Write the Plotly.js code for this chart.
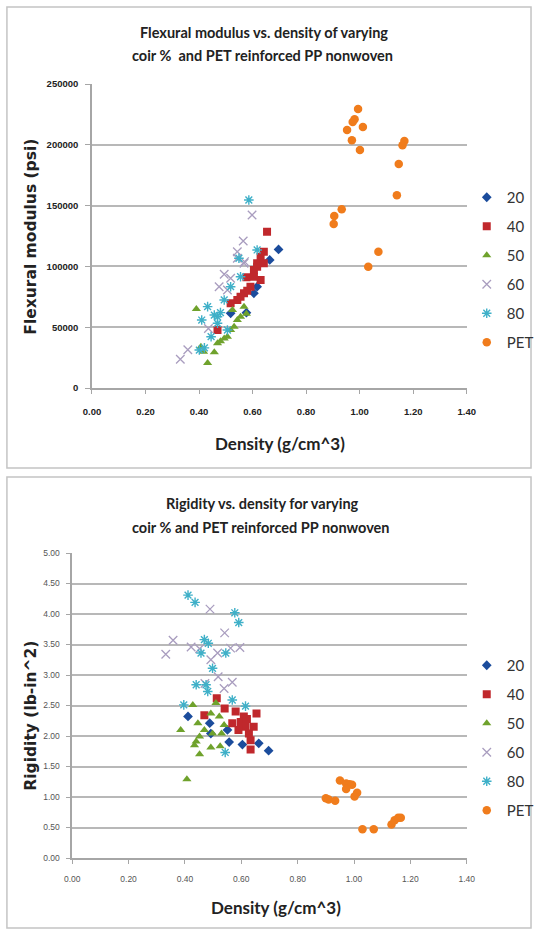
<!DOCTYPE html>
<html>
<head>
<meta charset="utf-8">
<script src="https://cdn.plot.ly/plotly-3.0.1.min.js"></script>
<style>
html,body{margin:0;padding:0;background:#fff;}
#chart{width:539px;height:932px;}
</style>
</head>
<body>
<div id="chart"></div>
<script>
// ---------- Chart 1: Flexural modulus vs density ----------
var seriesNames = ["20", "40", "50", "60", "80", "PET"];

var fm20x = [0.697, 0.664, 0.617, 0.605, 0.577, 0.518];
var fm20y = [114000, 105300, 83300, 77900, 61900, 61400];

var fm40x = [0.654, 0.642, 0.617, 0.605, 0.630, 0.642, 0.617, 0.605, 0.592, 0.568, 0.543, 0.518, 0.469, 0.630, 0.580, 0.555, 0.577];
var fm40y = [128500, 112100, 102600, 97000, 88800, 102600, 99800, 91500, 83300, 77900, 72400, 69700, 47700, 108000, 80000, 75000, 91000];

var fm50x = [0.390, 0.407, 0.432, 0.417, 0.457, 0.469, 0.494, 0.506, 0.518, 0.531, 0.543, 0.555, 0.577, 0.568, 0.525, 0.480];
var fm50y = [65000, 34000, 20500, 29900, 29500, 36700, 40800, 42200, 47700, 50400, 55900, 58600, 61000, 66900, 64100, 38500];

var fm60x = [0.330, 0.358, 0.435, 0.475, 0.494, 0.518, 0.506, 0.543, 0.568, 0.543, 0.565, 0.598, 0.570];
var fm60y = [23600, 31500, 49000, 83300, 93500, 90200, 80600, 106700, 102600, 112100, 120900, 142300, 103900];

var fm80x = [0.586, 0.617, 0.549, 0.555, 0.518, 0.494, 0.432, 0.457, 0.469, 0.410, 0.401, 0.445, 0.506, 0.469, 0.420, 0.480];
var fm80y = [154600, 113500, 106700, 91500, 83300, 72400, 66900, 60000, 53200, 55900, 31200, 42200, 47700, 58600, 33000, 62000];

var fmPETx = [0.994, 0.981, 0.974, 0.953, 1.012, 0.971, 1.001, 1.167, 1.160, 1.146, 1.139, 0.933, 0.905, 0.903, 1.070, 1.032];
var fmPETy = [229400, 221000, 218700, 212200, 214600, 203700, 195700, 203100, 199600, 184200, 158500, 147000, 141400, 134900, 112100, 99800];

// ---------- Chart 2: Rigidity vs density ----------
var rg20x = [0.411, 0.488, 0.492, 0.551, 0.557, 0.604, 0.662, 0.697];
var rg20y = [2.32, 2.21, 2.04, 2.10, 1.90, 1.86, 1.88, 1.76];

var rg40x = [0.513, 0.469, 0.541, 0.580, 0.609, 0.654, 0.568, 0.598, 0.615, 0.644, 0.627, 0.633, 0.633, 0.620, 0.590];
var rg40y = [2.62, 2.34, 2.45, 2.40, 2.32, 2.37, 2.21, 2.23, 2.15, 2.15, 2.04, 1.93, 1.78, 2.28, 2.10];

var rg50x = [0.428, 0.385, 0.446, 0.469, 0.498, 0.522, 0.492, 0.452, 0.530, 0.510, 0.539, 0.440, 0.434, 0.452, 0.492, 0.525, 0.407];
var rg50y = [2.51, 2.10, 2.21, 2.10, 2.04, 2.32, 2.37, 1.99, 2.04, 2.54, 2.18, 1.91, 1.85, 1.70, 1.81, 1.83, 1.29];

var rg60x = [0.489, 0.358, 0.332, 0.422, 0.452, 0.541, 0.562, 0.595, 0.516, 0.492, 0.518, 0.568, 0.471, 0.539];
var rg60y = [4.08, 3.57, 3.34, 3.46, 3.43, 3.69, 3.44, 3.45, 3.36, 3.25, 2.97, 2.88, 2.86, 2.78];

var rg80x = [0.411, 0.436, 0.577, 0.591, 0.469, 0.457, 0.483, 0.545, 0.498, 0.440, 0.481, 0.396, 0.568, 0.615, 0.475, 0.543];
var rg80y = [4.31, 4.19, 4.02, 3.86, 3.58, 3.36, 3.52, 3.36, 3.11, 2.84, 2.73, 2.51, 2.59, 2.49, 2.84, 1.73];

var rgPETx = [0.950, 0.972, 0.984, 0.993, 0.972, 1.011, 1.002, 0.900, 0.910, 0.933, 1.030, 1.070, 1.133, 1.144, 1.157, 1.166];
var rgPETy = [1.27, 1.22, 1.21, 1.20, 1.13, 1.07, 1.01, 0.98, 0.96, 0.94, 0.47, 0.47, 0.55, 0.62, 0.66, 0.66];

// ---------- Styles ----------
var W = 539, H = 932;
function px(v){ return v / W; }
function py(v){ return 1 - v / H; }

var styles = [
  {symbol: "diamond", color: "#1b4c9c", size: 7.5},
  {symbol: "square", color: "#c0282c", size: 8},
  {symbol: "triangle-up", color: "#6fa22c", size: 8},
  {symbol: "x-thin-open", color: "#a99dbf", size: 8.5, lw: 1.3},
  {symbol: "asterisk-open", color: "#3fb0c8", size: 8, lw: 1.4},
  {symbol: "circle", color: "#f07c1c", size: 8.5}
];

function mk(i, xs, ys, xa, ya, leg){
  var s = styles[i];
  var marker = {symbol: s.symbol, color: s.color, size: s.size};
  if (s.lw) { marker.line = {color: s.color, width: s.lw}; }
  else { marker.line = {width: 0}; }
  return {
    type: "scatter", mode: "markers", name: seriesNames[i],
    x: xs, y: ys, xaxis: xa, yaxis: ya, marker: marker,
    legend: leg, legendgroup: leg + "_" + i, hoverinfo: "skip"
  };
}

var c1 = [[fm20x,fm20y],[fm40x,fm40y],[fm50x,fm50y],[fm60x,fm60y],[fm80x,fm80y],[fmPETx,fmPETy]];
var c2 = [[rg20x,rg20y],[rg40x,rg40y],[rg50x,rg50y],[rg60x,rg60y],[rg80x,rg80y],[rgPETx,rgPETy]];
var data = [];
for (var i = 0; i < 6; i++) data.push(mk(i, c1[i][0], c1[i][1], "x", "y", "legend"));
for (var j = 0; j < 6; j++) data.push(mk(j, c2[j][0], c2[j][1], "x2", "y2", "legend2"));

var gridC = "#b8b8b8";
var axisC = "#a6a6a6";

var layout = {
  width: W, height: H,
  margin: {l: 0, r: 0, t: 0, b: 0},
  paper_bgcolor: "#ffffff", plot_bgcolor: "#ffffff",
  showlegend: true,
  xaxis: {
    domain: [px(93), px(472)], anchor: "y", range: [0, 1.4], dtick: 0.2, tick0: 0,
    tickformat: ".2f", showgrid: false, zeroline: false,
    showline: true, linecolor: axisC, linewidth: 1.5,
    ticks: "outside", ticklen: 4, tickcolor: axisC, tickwidth: 1.2,
    ticklabelstandoff: 10,
    tickfont: {family: "Liberation Sans, Arial", size: 9.5, color: "#222", weight: "bold"},
    fixedrange: true
  },
  yaxis: {
    domain: [py(388), py(84)], anchor: "x", range: [0, 250000], dtick: 50000, tick0: 0,
    tickformat: "d", showgrid: true, gridcolor: gridC, gridwidth: 1.8, zeroline: false,
    showline: true, linecolor: axisC, linewidth: 1.5,
    ticks: "outside", ticklen: 5, tickcolor: axisC, tickwidth: 1.2,
    ticklabelstandoff: 5,
    tickfont: {family: "Liberation Sans, Arial", size: 9.5, color: "#222", weight: "bold"},
    fixedrange: true
  },
  xaxis2: {
    domain: [px(73), px(472)], anchor: "y2", range: [0, 1.4], dtick: 0.2, tick0: 0,
    tickformat: ".2f", showgrid: false, zeroline: false,
    showline: true, linecolor: axisC, linewidth: 1.5,
    ticks: "outside", ticklen: 4, tickcolor: axisC, tickwidth: 1.2,
    ticklabelstandoff: 8,
    tickfont: {family: "Liberation Sans, Arial", size: 8.5, color: "#555"},
    fixedrange: true
  },
  yaxis2: {
    domain: [py(858), py(553)], anchor: "x2", range: [0, 5], dtick: 0.5, tick0: 0,
    tickformat: ".2f", showgrid: true, gridcolor: gridC, gridwidth: 1.8, zeroline: false,
    showline: true, linecolor: axisC, linewidth: 1.5,
    ticks: "outside", ticklen: 4, tickcolor: axisC, tickwidth: 1.2,
    ticklabelstandoff: 5,
    tickfont: {family: "Liberation Sans, Arial", size: 8.5, color: "#555"},
    fixedrange: true
  },
  legend: {
    x: px(472), y: py(181), xanchor: "left", yanchor: "top",
    font: {family: "Lato, Open Sans, sans-serif", size: 15, color: "#333"},
    bgcolor: "rgba(0,0,0,0)", tracegroupgap: 6.5, traceorder: "grouped", itemwidth: 30
  },
  legend2: {
    x: px(472), y: py(649), xanchor: "left", yanchor: "top",
    font: {family: "Lato, Open Sans, sans-serif", size: 15, color: "#333"},
    bgcolor: "rgba(0,0,0,0)", tracegroupgap: 6.5, traceorder: "grouped", itemwidth: 30
  },
  shapes: [
    {type: "rect", xref: "paper", yref: "paper", x0: px(7), x1: px(537), y0: py(468), y1: py(7),
     line: {color: "#c4c4c4", width: 1.5}, fillcolor: "rgba(0,0,0,0)", layer: "below"},
    {type: "rect", xref: "paper", yref: "paper", x0: px(7), x1: px(537), y0: py(928), y1: py(477),
     line: {color: "#c4c4c4", width: 1.5}, fillcolor: "rgba(0,0,0,0)", layer: "below"}
  ],
  annotations: [
    {text: "Flexural modulus vs. density of varying", xref: "paper", yref: "paper",
     x: px(267), y: py(33), showarrow: false, xanchor: "center", yanchor: "middle",
     font: {family: "Lato, sans-serif", size: 14.5, color: "#222", weight: "bold"}},
    {text: "coir %  and PET reinforced PP nonwoven", xref: "paper", yref: "paper",
     x: px(265), y: py(56), showarrow: false, xanchor: "center", yanchor: "middle",
     font: {family: "Lato, sans-serif", size: 14.5, color: "#222", weight: "bold"}},
    {text: "Flexural modulus (psi)", xref: "paper", yref: "paper",
     x: px(31), y: py(237), showarrow: false, textangle: -90, xanchor: "center", yanchor: "middle",
     font: {family: "DejaVu Sans, sans-serif", size: 15.5, color: "#222", weight: "bold"}},
    {text: "Density (g/cm^3)", xref: "paper", yref: "paper",
     x: px(283), y: py(443), showarrow: false, xanchor: "center", yanchor: "middle",
     font: {family: "Lato, sans-serif", size: 17, color: "#222", weight: "bold"}},

    {text: "Rigidity vs. density for varying", xref: "paper", yref: "paper",
     x: px(265), y: py(503), showarrow: false, xanchor: "center", yanchor: "middle",
     font: {family: "Lato, sans-serif", size: 14.5, color: "#222", weight: "bold"}},
    {text: "coir % and PET reinforced PP nonwoven", xref: "paper", yref: "paper",
     x: px(264), y: py(527), showarrow: false, xanchor: "center", yanchor: "middle",
     font: {family: "Lato, sans-serif", size: 14.5, color: "#222", weight: "bold"}},
    {text: "Rigidity (lb-in^2)", xref: "paper", yref: "paper",
     x: px(31), y: py(716), showarrow: false, textangle: -90, xanchor: "center", yanchor: "middle",
     font: {family: "DejaVu Sans, sans-serif", size: 15.5, color: "#222", weight: "bold"}},
    {text: "Density (g/cm^3)", xref: "paper", yref: "paper",
     x: px(279), y: py(907), showarrow: false, xanchor: "center", yanchor: "middle",
     font: {family: "Lato, sans-serif", size: 17, color: "#222", weight: "bold"}}
  ]
};

Plotly.newPlot("chart", data, layout, {displayModeBar: false, responsive: false});
</script>
</body>
</html>
